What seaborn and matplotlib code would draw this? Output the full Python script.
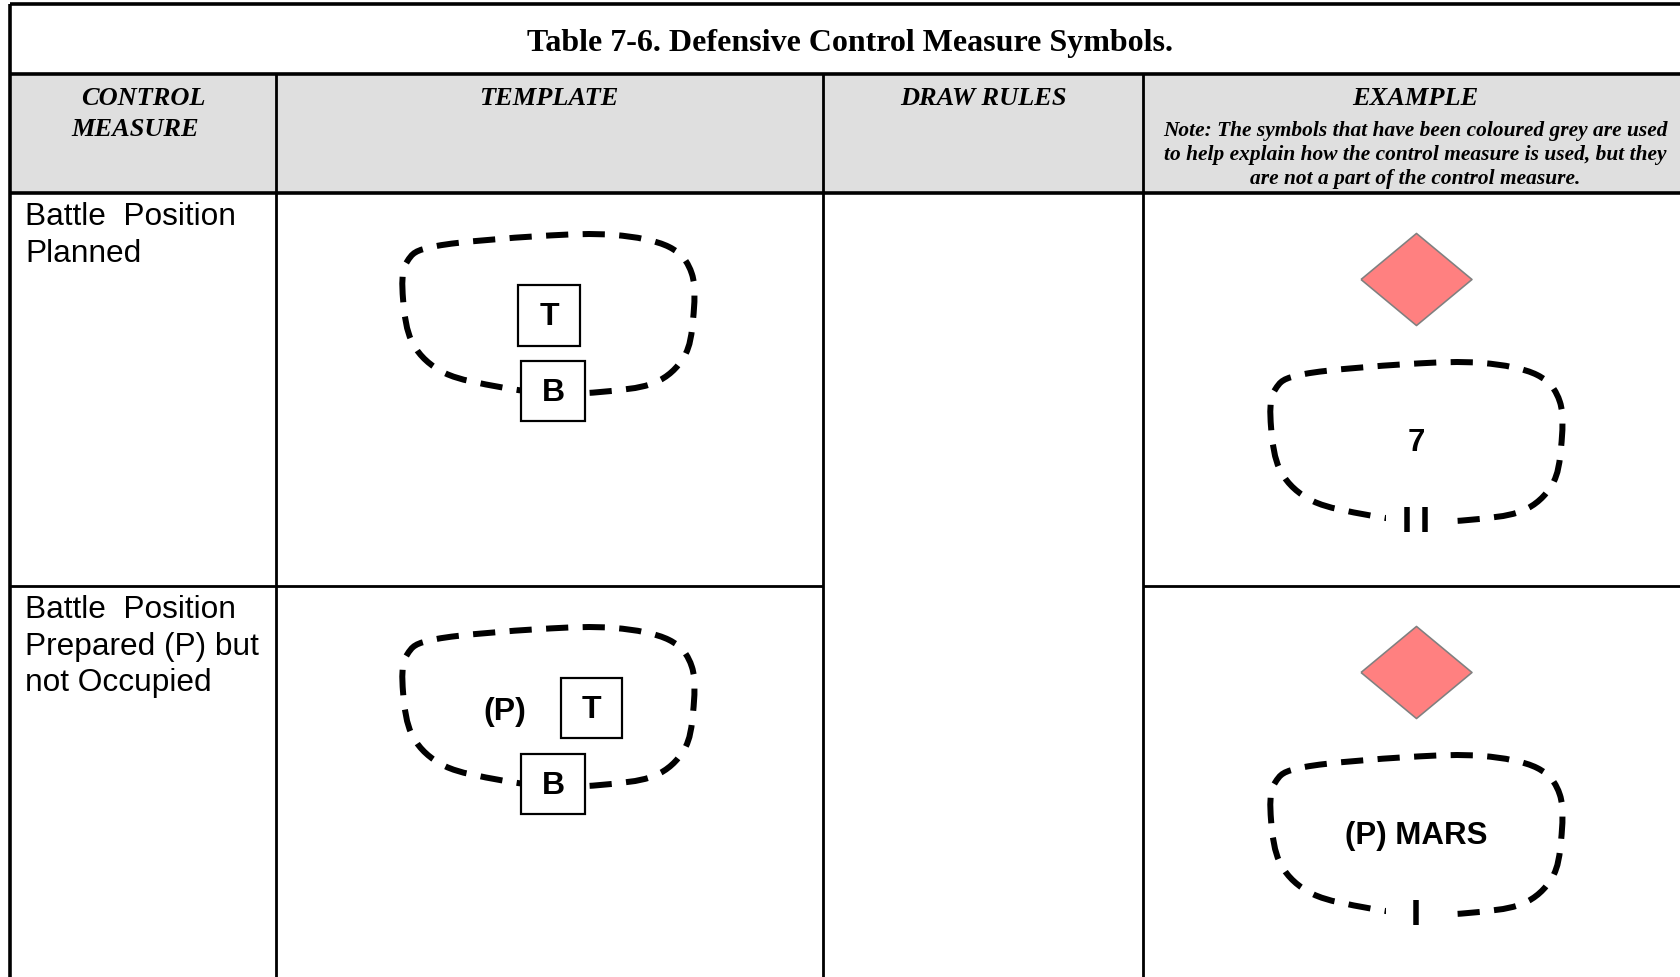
import matplotlib
matplotlib.use("Agg")
import numpy as np
import pandas as pd
import matplotlib.pyplot as plt
import seaborn as sns
from matplotlib.path import Path
from matplotlib.patches import PathPatch, Rectangle

# ---------------- data ----------------
title = "Table 7-6. Defensive Control Measure Symbols."
header_labels = ["CONTROL", "MEASURE", "TEMPLATE", "DRAW RULES", "EXAMPLE"]
note_lines = [
    "Note: The symbols that have been coloured grey are used",
    "to help explain how the control measure is used, but they",
    "are not a part of the control measure.",
]
control_measures = [
    ["Battle  Position", "Planned"],
    ["Battle  Position", "Prepared (P) but", "not Occupied"],
]
template_prefix = ["", "(P)"]
template_top_box = ["T", "T"]
template_bottom_box = ["B", "B"]
example_labels = ["7", "(P) MARS"]
echelon_ticks = [2, 1]

# ---------------- style ----------------
sns.set_theme(style="white")
plt.rcParams["font.family"] = ["Liberation Sans", "DejaVu Sans"]
plt.rcParams["text.color"] = "black"
SERIF = ["Liberation Serif", "DejaVu Serif"]
SANS = ["Liberation Sans", "DejaVu Sans"]

W, H = 1681, 978
PX = 0.72  # points per pixel at dpi 100

fig = plt.figure(figsize=(W / 100, H / 100), dpi=100)
ax = fig.add_axes([0, 0, 1, 1])
fig.patch.set_facecolor("white")

# table layout (pixels)
X_LEFT, X_RIGHT = 10, 1700
Y_TOP, Y_TITLE, Y_HEAD = 5, 75, 194
COLS = [10, 276, 823, 1143]
ROW_TOPS = [194, 587]

# header background
ax.add_patch(Rectangle((X_LEFT, Y_TITLE), X_RIGHT - X_LEFT, Y_HEAD - Y_TITLE,
                       facecolor="#dfdfdf", edgecolor="none", zorder=0))

thick = 3.6 * PX
thin = 2.8 * PX
ax.hlines([Y_TOP, Y_TITLE, Y_HEAD], X_LEFT, X_RIGHT, colors="black", lw=thick, zorder=5)
ax.vlines(X_LEFT, Y_TOP, H + 5, colors="black", lw=thick, zorder=5)
ax.vlines(COLS[1:], Y_TITLE, H + 5, colors="black", lw=thin, zorder=5)
ax.hlines(ROW_TOPS[1], X_LEFT, COLS[2], colors="black", lw=thin, zorder=5)
ax.hlines(ROW_TOPS[1], COLS[3], X_RIGHT, colors="black", lw=thin, zorder=5)

# title and headers
ax.text(850, 43, title, ha="center", va="center", fontsize=23, color="black",
        family=SERIF, weight="bold", zorder=6)
head_pos = [(143, 98.5), (135, 129), (549, 98.5), (983, 98.5), (1415, 98.5)]
for lab, (hx, hy) in zip(header_labels, head_pos):
    ax.text(hx, hy, lab, ha="center", va="center", fontsize=19, color="black",
            family=SERIF, weight="bold", style="italic", zorder=6)
for i, line in enumerate(note_lines):
    ax.text(1415, 131 + 24 * i, line, ha="center", va="center", fontsize=15.4,
            color="black", family=SERIF, weight="bold", style="italic", zorder=6)

# control-measure names
for rt, lines in zip(ROW_TOPS, control_measures):
    for j, line in enumerate(lines):
        ax.text(25, rt + 31 + 36.5 * j, line, ha="left", va="baseline",
                fontsize=22.8, color="black", family=SANS, zorder=6)

# blob outline (normalised anchor points, closed smooth curve)
BLOB = [(0.017, 0.406), (0.030, 0.175), (0.130, 0.075), (0.478, 0.013),
        (0.731, 0.006), (0.916, 0.081), (0.993, 0.250), (0.997, 0.531),
        (0.966, 0.769), (0.865, 0.931), (0.680, 0.988), (0.512, 0.994),
        (0.343, 0.956), (0.158, 0.869), (0.051, 0.688)]


def blob(x0, y0, w=296, h=160):
    pts = np.array([(x0 + u * w, y0 + v * h) for u, v in BLOB])
    n = len(pts)
    verts = [pts[0]]
    codes = [Path.MOVETO]
    for i in range(n):
        p0, p1, p2, p3 = pts[i - 1], pts[i], pts[(i + 1) % n], pts[(i + 2) % n]
        verts += [p1 + (p2 - p0) / 6, p2 - (p3 - p1) / 6, p2]
        codes += [Path.CURVE4] * 3
    lw = 6 * PX
    ax.add_patch(PathPatch(Path(verts, codes), facecolor="none", edgecolor="black",
                           lw=lw, linestyle=(0, (3.7, 2.4)), capstyle="butt", zorder=3))


def box(cx, cy, w, h, label):
    ax.add_patch(Rectangle((cx - w / 2, cy - h / 2), w, h, facecolor="white",
                           edgecolor="black", lw=2.2 * PX, zorder=4))
    ax.text(cx, cy + 1, label, ha="center", va="center", fontsize=23, color="black",
            family=SANS, weight="bold", zorder=6)


for k, rt in enumerate(ROW_TOPS):
    # template column
    blob(398, rt + 41)
    if template_prefix[k]:
        ax.text(505, rt + 125, template_prefix[k], ha="center", va="center",
                fontsize=23, color="black", family=SANS, weight="bold", zorder=6)
        box(591.5, rt + 122, 61, 60, template_top_box[k])
    else:
        box(549, rt + 122, 62, 61, template_top_box[k])
    box(553, rt + 198, 64, 60, template_bottom_box[k])

    # example column
    blob(1266, rt + 169)
    ax.text(1416, rt + 249, example_labels[k], ha="center", va="center",
            fontsize=22.5, color="black", family=SANS, weight="bold", zorder=6)
    bottom = rt + 169 + 160
    ax.add_patch(Rectangle((1386, bottom - 11), 62, 22, facecolor="white",
                           edgecolor="none", zorder=3.5))
    nt = echelon_ticks[k]
    xs = 1416 + (np.arange(nt) - (nt - 1) / 2) * 18
    ax.vlines(xs, bottom - 15, bottom + 10, colors="black", lw=5.5 * PX, zorder=4)

# diamonds (grey-outlined helper symbols) via seaborn
diam = pd.DataFrame({"x": [1416.0, 1416.0], "y": [ROW_TOPS[0] + 86.0, ROW_TOPS[1] + 86.0]})
diamond_marker = [(-1, 0), (0, 0.83), (1, 0), (0, -0.83), (-1, 0)]
sns.scatterplot(data=diam, x="x", y="y", marker=diamond_marker, s=(111 * PX) ** 2,
                color="#ff8080", edgecolor="#808080", linewidth=1.6 * PX,
                legend=False, ax=ax, zorder=4)

ax.set_xlim(0, W)
ax.set_ylim(H, 0)
ax.axis("off")
fig.savefig("out.png", dpi=100, facecolor="white")
